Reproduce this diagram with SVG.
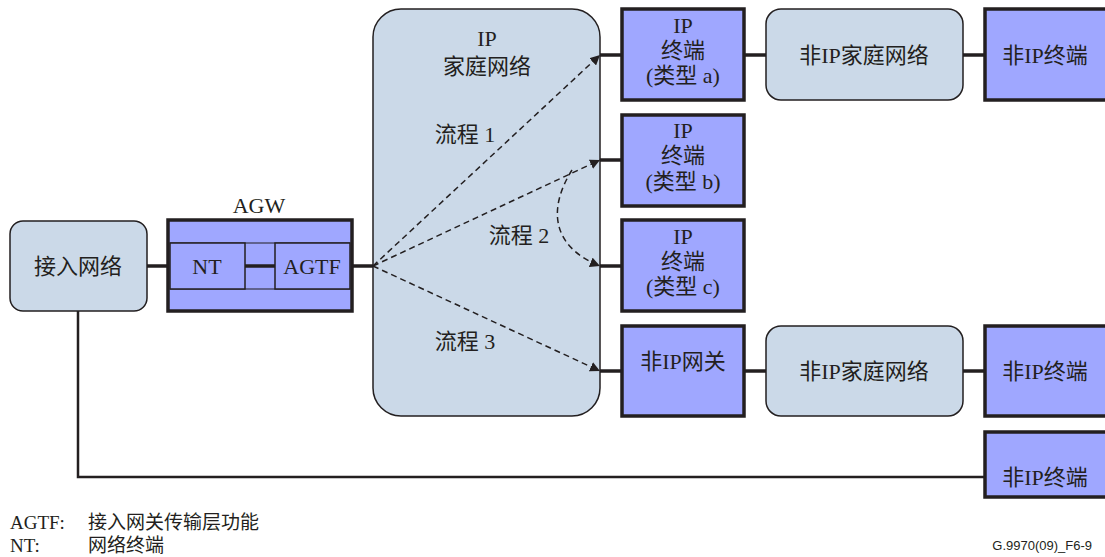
<svg xmlns="http://www.w3.org/2000/svg" width="1105" height="557" viewBox="0 0 1105 557">
<defs>
<style>
.net{fill:#cbd9e8;stroke:#231f20;stroke-width:1.5}
.dev{fill:#9fa7ff;stroke:#231f20;stroke-width:3.5}
.inner{fill:#9fa7ff;stroke:#231f20;stroke-width:1.5}
.t{font-family:"Liberation Serif","Noto Sans CJK SC",serif;font-size:22px;fill:#231f20;text-anchor:middle}
.lg{font-family:"Liberation Serif","Noto Sans CJK SC",serif;font-size:19px;fill:#231f20}
.ln{stroke:#231f20;stroke-width:3.5;fill:none}
.thin{stroke:#231f20;stroke-width:2.5;fill:none}
.dash{stroke:#231f20;stroke-width:1.5;fill:none;stroke-dasharray:6 4}
</style>
<marker id="ah" viewBox="0 0 10 10" refX="10" refY="5" markerWidth="10" markerHeight="10" markerUnits="userSpaceOnUse" orient="auto">
<path d="M0,0 L10,5 L0,10 Z" fill="#231f20"/>
</marker>
</defs>
<rect width="1105" height="557" fill="#ffffff"/>

<g id="access-network">
<rect class="net" x="10" y="221" width="137" height="90" rx="13"/>
<text class="t" x="78" y="274">接入网络</text>
</g>

<g id="agw">
<text class="t" x="259" y="213">AGW</text>
<rect class="dev" x="168" y="220" width="184" height="91"/>
<line x1="170" y1="243" x2="350" y2="243" stroke="#231f20" stroke-width="1.2"/>
<line x1="170" y1="289" x2="350" y2="289" stroke="#231f20" stroke-width="1.2"/>
</g>
<g id="nt">
<rect class="inner" x="170" y="243" width="75" height="46"/>
<text class="t" x="207" y="274">NT</text>
</g>
<g id="agtf">
<rect class="inner" x="275" y="243" width="75" height="46"/>
<text class="t" x="312" y="274">AGTF</text>
</g>

<g id="ip-home-network">
<rect class="net" x="373" y="9" width="227" height="407" rx="28"/>
<text class="t" x="487" y="46">IP</text>
<text class="t" x="487" y="74">家庭网络</text>
</g>

<g id="ip-terminal-a">
<rect class="dev" x="622" y="9" width="122" height="91"/>
<text class="t" x="683" y="33">IP</text>
<text class="t" x="683" y="58">终端</text>
<text class="t" x="683" y="83">(类型 a)</text>
</g>
<g id="ip-terminal-b">
<rect class="dev" x="622" y="115" width="122" height="91"/>
<text class="t" x="683" y="138">IP</text>
<text class="t" x="683" y="163">终端</text>
<text class="t" x="683" y="189">(类型 b)</text>
</g>
<g id="ip-terminal-c">
<rect class="dev" x="622" y="220" width="122" height="91"/>
<text class="t" x="683" y="244">IP</text>
<text class="t" x="683" y="269">终端</text>
<text class="t" x="683" y="294">(类型 c)</text>
</g>
<g id="non-ip-gateway">
<rect class="dev" x="622" y="326" width="122" height="90"/>
<text class="t" x="683" y="369">非IP网关</text>
</g>

<g id="non-ip-home-network-1">
<rect class="net" x="766" y="9" width="197" height="91" rx="15"/>
<text class="t" x="864" y="63">非IP家庭网络</text>
</g>
<g id="non-ip-terminal-1">
<rect class="dev" x="985" y="9" width="124" height="91"/>
<text class="t" x="1045" y="63">非IP终端</text>
</g>
<g id="non-ip-home-network-2">
<rect class="net" x="766" y="326" width="197" height="90" rx="15"/>
<text class="t" x="864" y="379">非IP家庭网络</text>
</g>
<g id="non-ip-terminal-2">
<rect class="dev" x="985" y="326" width="124" height="90"/>
<text class="t" x="1045" y="379">非IP终端</text>
</g>
<g id="non-ip-terminal-3">
<rect class="dev" x="985" y="432" width="124" height="65"/>
<text class="t" x="1045" y="485">非IP终端</text>
</g>

<g id="connectors">
<line class="ln" x1="147" y1="266" x2="168" y2="266"/>
<line class="ln" x1="245" y1="266" x2="275" y2="266"/>
<line class="ln" x1="352" y1="266" x2="373" y2="266"/>
<line class="ln" x1="600" y1="55" x2="622" y2="55"/>
<line class="ln" x1="600" y1="160" x2="622" y2="160"/>
<line class="ln" x1="600" y1="266" x2="622" y2="266"/>
<line class="ln" x1="600" y1="371" x2="622" y2="371"/>
<line class="ln" x1="744" y1="55" x2="766" y2="55"/>
<line class="ln" x1="963" y1="55" x2="985" y2="55"/>
<line class="ln" x1="744" y1="371" x2="766" y2="371"/>
<line class="ln" x1="963" y1="371" x2="985" y2="371"/>
<polyline class="thin" points="78,311 78,477 985,477"/>
<line class="dash" x1="373" y1="266" x2="600" y2="55" marker-end="url(#ah)"/>
<line class="dash" x1="373" y1="266" x2="600" y2="160" marker-end="url(#ah)"/>
<line class="dash" x1="373" y1="266" x2="600" y2="371" marker-end="url(#ah)"/>
<path class="dash" d="M572,170 C550,205 548,245 600,266" marker-end="url(#ah)"/>
<text class="t" x="465" y="142">流程 1</text>
<text class="t" x="519" y="243">流程 2</text>
<text class="t" x="465" y="349">流程 3</text>
</g>

<g id="legend">
<text class="lg" x="10" y="529">AGTF:</text>
<text class="lg" x="88" y="529">接入网关传输层功能</text>
<text class="lg" x="10" y="552">NT:</text>
<text class="lg" x="88" y="552">网络终端</text>
<text x="1092" y="550" font-family="Liberation Sans, sans-serif" font-size="13" fill="#231f20" text-anchor="end">G.9970(09)_F6-9</text>
</g>
</svg>
